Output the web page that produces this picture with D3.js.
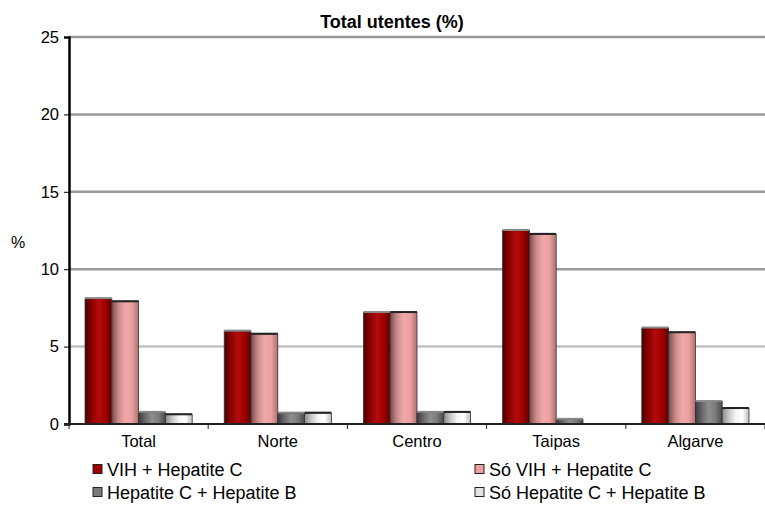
<!DOCTYPE html>
<html><head><meta charset="utf-8">
<script src="https://cdn.jsdelivr.net/npm/d3@7"></script>
<style>body{margin:0;background:#fff}svg{display:block;font-family:"Liberation Sans",Arial,sans-serif}</style>
</head><body><svg id="c" width="765" height="506"></svg>
<script>
const categories = ["Total","Norte","Centro","Taipas","Algarve"];
const seriesNames = ["VIH + Hepatite C","Só VIH + Hepatite C","Hepatite C + Hepatite B","Só Hepatite C + Hepatite B"];
const vihHepC = [8.1, 6.0, 7.2, 12.5, 6.2];
const soVihHepC = [7.9, 5.8, 7.2, 12.25, 5.9];
const hepCHepB = [0.75, 0.7, 0.75, 0.3, 1.45];
const soHepCHepB = [0.6, 0.7, 0.75, 0, 1.0];
const yTicks = [0,5,10,15,20,25];

const series = [vihHepC, soVihHepC, hepCHepB, soHepCHepB];
const svg = d3.select("#c");
const m = {l:69, r:765, t:37, b:424};
const x = d3.scaleBand().domain(categories).range([m.l, m.r]).paddingInner(0.23).paddingOuter(0.115);
const x0 = d3.scaleBand().domain(categories).range([m.l, m.r]);
const xs = d3.scaleBand().domain(d3.range(4)).range([0, x.bandwidth()]);
const y = d3.scaleLinear().domain([0,25]).range([m.b, m.t]);

const grads = [
  ["#4a0000","#8a0000","#b30b0b","#a00000","#600000"],
  ["#7a4a4a","#c88a8a","#f0a8a8","#eba0a0","#b07070"],
  ["#3a3a3a","#6a6a6a","#8e8e8e","#7a7a7a","#4a4a4a"],
  ["#8a8a8a","#c8c8c8","#f4f4f4","#ffffff","#bdbdbd"]
];
const defs = svg.append("defs");
grads.forEach((g,i)=>{
  const lg = defs.append("linearGradient").attr("id","g"+i).attr("x1","0").attr("x2","1").attr("y1","0").attr("y2","0");
  g.forEach((c,j)=>lg.append("stop").attr("offset", j/(g.length-1)).attr("stop-color",c));
});

// gridlines
svg.append("g").selectAll("line").data(yTicks.filter(t=>t>0)).join("line")
  .attr("x1", m.l).attr("x2", m.r).attr("y1", d=>y(d)).attr("y2", d=>y(d))
  .attr("stroke", d=>d===5?"#c0c0c0":"#9a9a9a").attr("stroke-width", 2.5);

// bars
const gBars = svg.append("g");
categories.forEach((c,ci)=>{
  series.forEach((s,si)=>{
    const v = s[ci];
    if (v <= 0) return;
    gBars.append("rect")
      .attr("x", x(c)+xs(si)).attr("y", y(v))
      .attr("width", xs.bandwidth()).attr("height", y(0)-y(v))
      .attr("fill", `url(#g${si})`).attr("stroke", "#333").attr("stroke-width", 0.8);
    gBars.append("rect")
      .attr("x", x(c)+xs(si)).attr("y", y(v)-1.5)
      .attr("width", xs.bandwidth()).attr("height", 2)
      .attr("fill", si===1||si===3 ? "#222" : "#888");
  });
});

// y axis
const ya = svg.append("g").attr("transform",`translate(${m.l},0)`)
  .call(d3.axisLeft(y).tickValues(yTicks).tickSize(5).tickPadding(5));
ya.select(".domain").attr("stroke","#000").attr("stroke-width",2.5);
ya.selectAll(".tick line").attr("stroke","#000");
ya.selectAll("text").attr("font-size",16.5).attr("fill","#000").attr("font-family","Liberation Sans, Arial, sans-serif");

// x axis
const xa = svg.append("g").attr("transform",`translate(0,${m.b})`);
xa.append("line").attr("x1",m.l-5).attr("x2",m.r).attr("stroke","#222").attr("stroke-width",2);
xa.selectAll("line.t").data(categories.concat(["_end"])).join("line").attr("class","t")
  .attr("x1",(d,i)=> m.l + i*x0.step()).attr("x2",(d,i)=> m.l + i*x0.step())
  .attr("y1",0).attr("y2",5).attr("stroke","#222").attr("stroke-width",1);
xa.selectAll("text").data(categories).join("text")
  .attr("x", d=>x0(d)+x0.bandwidth()/2).attr("y", 23)
  .attr("text-anchor","middle").attr("font-size",16.5).text(d=>d);

// title & y label
svg.append("text").attr("x",392).attr("y",28).attr("text-anchor","middle")
  .attr("font-size",18).attr("font-weight","bold").text("Total utentes (%)");
svg.append("text").attr("x",18).attr("y",248).attr("text-anchor","middle").attr("font-size",16).text("%");

// legend
const legPos = [[93,476],[475,476],[93,499],[475,499]];
const legFill = ["#a00000","#eea0a0","#7a7a7a","#e4e4e4"];
seriesNames.forEach((n,i)=>{
  const [lx,ly] = legPos[i];
  svg.append("rect").attr("x",lx).attr("y",ly-11.5).attr("width",9).attr("height",9)
    .attr("fill",legFill[i]).attr("stroke","#222").attr("stroke-width",1);
  svg.append("text").attr("x",lx+14).attr("y",ly).attr("font-size",18).text(n);
});
</script></body></html>
